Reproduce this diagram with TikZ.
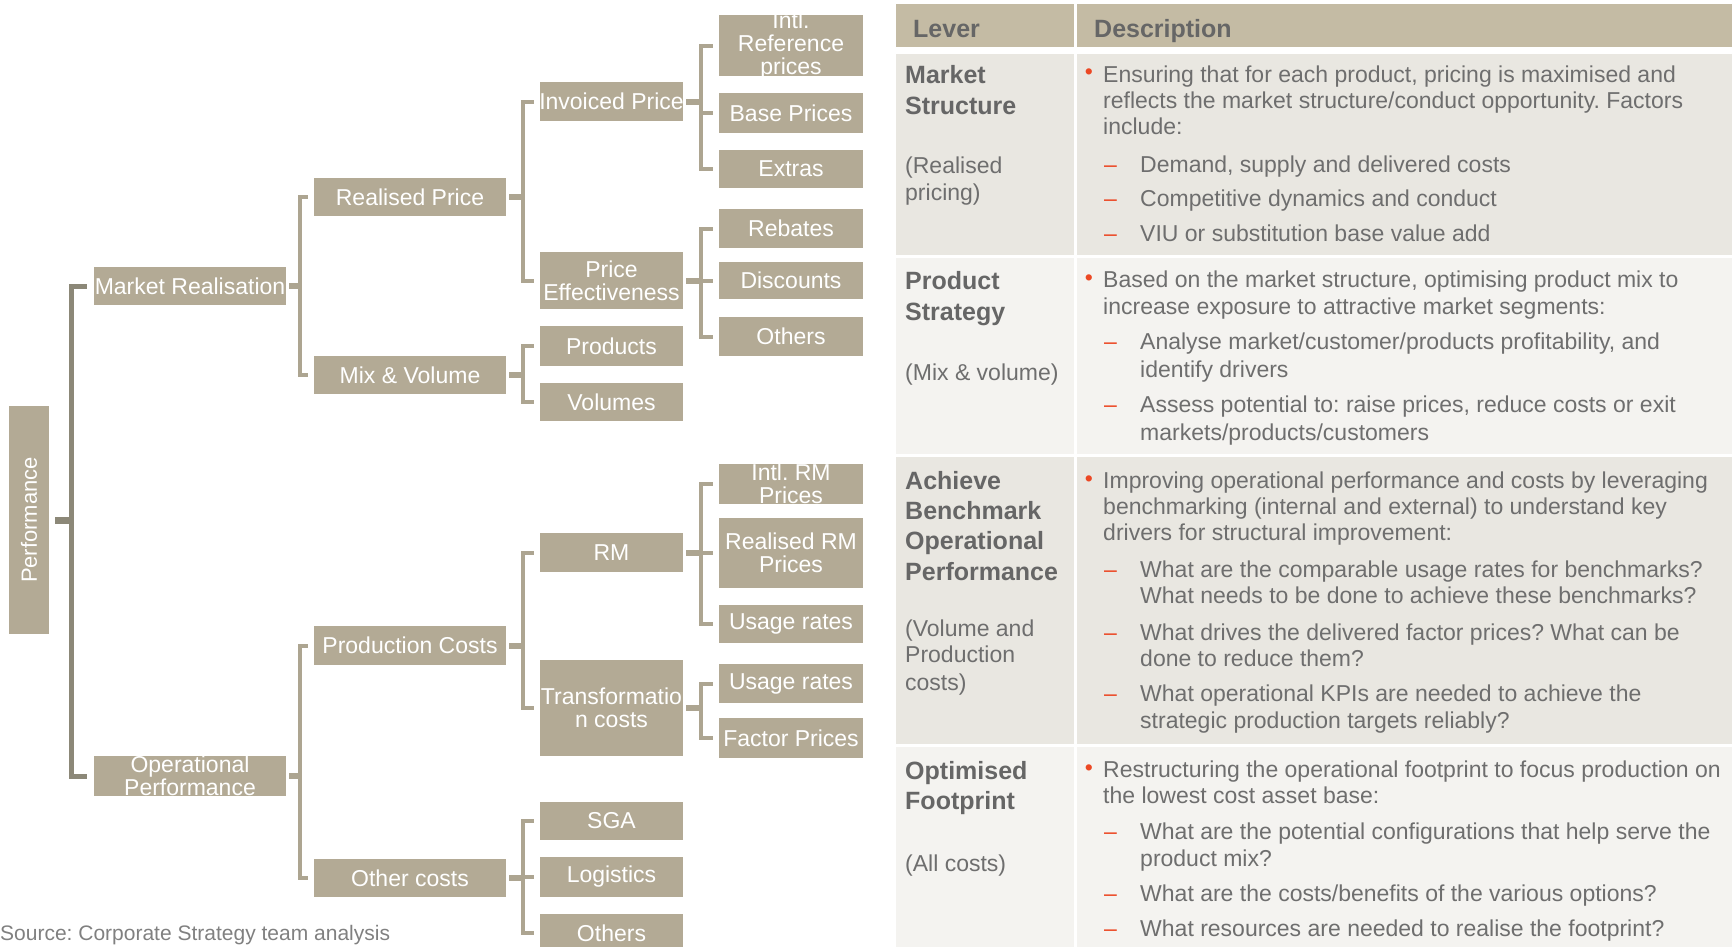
\documentclass[tikz,border=0pt]{standalone}
\usepackage{fontspec}
\setmainfont{Liberation Sans}
\frenchspacing
\usetikzlibrary{calc}
\definecolor{boxc}{RGB}{179,170,149}
\definecolor{connc}{RGB}{173,165,145}
\definecolor{darkc}{RGB}{140,136,120}
\definecolor{hdrc}{RGB}{196,187,164}
\definecolor{rowa}{RGB}{233,231,225}
\definecolor{rowb}{RGB}{244,243,240}
\definecolor{txtc}{RGB}{110,110,110}
\definecolor{levc}{RGB}{102,102,102}
\definecolor{srcc}{RGB}{128,128,128}
\definecolor{redc}{RGB}{236,72,36}
\newcommand\FS[1]{\fontsize{#1}{#1}\selectfont}
\newcommand\Bx[6]{%
  \node[bx,minimum width={(#4-#2)*1pt},minimum height={(#5-#3)*1pt}] (#1) at ({(#2+#4)/2},{(#3+#5)/2}) {};
  \node[btx] (#1t) at (#1.center) {#6};}
\newcommand\Branch[5]{%
  \coordinate (#3v) at ($(#3.east)!0.5!(#3.east -| #4.west)$);
  \draw[#2] (#3.east) -- (#3v);
  \foreach \ch in {#5}{\draw[#1] (#3v) |- (\ch.west);}}
\newcommand\Ln[4]{\node[ln,anchor=base west] (#1) at (#2,#3) {#4};}
\newcommand\Lb[4]{\node[lb,anchor=base west] (#1) at (#2,#3) {#4};}
\newcommand\Bul[3]{\node[bul] (#1) at (#2,#3) {•};}
\newcommand\Dsh[3]{\node[dsh,anchor=base west] (#1) at (#2,#3) {–};}
\begin{document}
\begin{tikzpicture}[x=1pt,y=-1pt,
  bx/.style={fill=boxc,inner sep=0,outer sep=0},
  btx/.style={text=white,font=\FS{23},align=center,inner sep=0},
  lbr/.style={draw=connc,line width=4pt,shorten >=6pt},
  lstub/.style={draw=connc,line width=6pt,shorten <=3pt},
  dbr/.style={draw=darkc,line width=5pt,shorten >=7pt},
  dstub/.style={draw=darkc,line width=7pt,shorten <=6pt},
  ln/.style={text=txtc,font=\FS{23},inner sep=0},
  lb/.style={text=levc,font=\FS{25}\bfseries,inner sep=0},
  bul/.style={text=redc,font=\FS{23},inner sep=0},
  dsh/.style={text=redc,font=\FS{23},inner sep=0}]
\useasboundingbox (0,0) rectangle (1732,946);
\clip (0,0) rectangle (1732,946);

% ---------- tree boxes ----------
\Bx{perf}{9}{406}{49}{634}{}
\node[btx,rotate=90,font=\FS{22}] (perft) at (perf.center) {Performance};
\Bx{mr}{94}{267}{286}{305}{Market Realisation}
\Bx{op}{94}{756}{286}{796}{Operational\\Performance}
\Bx{rp}{314}{178}{506}{216}{Realised Price}
\Bx{mv}{314}{356}{506}{394}{Mix \& Volume}
\Bx{pc}{314}{626}{506}{665}{Production Costs}
\Bx{oc}{314}{859}{506}{897}{Other costs}
\Bx{ip}{540}{82}{683}{121}{Invoiced Price}
\Bx{pe}{540}{252}{683}{309}{Price\\Effectiveness}
\Bx{prod}{540}{326}{683}{366}{Products}
\Bx{vol}{540}{383}{683}{421}{Volumes}
\Bx{rm}{540}{533}{683}{572}{RM}
\Bx{tc}{540}{660}{683}{756}{Transformatio\\n costs}
\Bx{sga}{540}{802}{683}{840}{SGA}
\Bx{logi}{540}{857}{683}{897}{Logistics}
\Bx{othc}{540}{914}{683}{952}{Others}
\Bx{irp}{719}{15}{863}{76}{Intl.\\Reference\\prices}
\Bx{bp}{719}{93}{863}{133}{Base Prices}
\Bx{ex}{719}{150}{863}{188}{Extras}
\Bx{reb}{719}{209}{863}{248}{Rebates}
\Bx{disc}{719}{262}{863}{299}{Discounts}
\Bx{othp}{719}{317}{863}{356}{Others}
\Bx{irm}{719}{464}{863}{504}{Intl. RM\\Prices}
\Bx{rrm}{719}{518}{863}{588}{Realised RM\\Prices}
\Bx{ura}{719}{605}{863}{643}{Usage rates}
\Bx{urb}{719}{664}{863}{703}{Usage rates}
\Bx{fp}{719}{718}{863}{758}{Factor Prices}

% ---------- connectors ----------
\Branch{dbr}{dstub}{perf}{mr}{mr,op}
\Branch{lbr}{lstub}{mr}{rp}{rp,mv}
\Branch{lbr}{lstub}{op}{pc}{pc,oc}
\Branch{lbr}{lstub}{rp}{ip}{ip,pe}
\Branch{lbr}{lstub}{mv}{prod}{prod,vol}
\Branch{lbr}{lstub}{pc}{rm}{rm,tc}
\Branch{lbr}{lstub}{oc}{sga}{sga,logi,othc}
\Branch{lbr}{lstub}{ip}{irp}{irp,bp,ex}
\Branch{lbr}{lstub}{pe}{reb}{reb,disc,othp}
\Branch{lbr}{lstub}{rm}{irm}{irm,rrm,ura}
\Branch{lbr}{lstub}{tc}{urb}{urb,fp}

\node[anchor=base west,inner sep=0,font=\FS{21},text=srcc] (src) at (0,940) {Source: Corporate Strategy team analysis};

% ---------- table ----------
\fill[hdrc] (896,4) rectangle (1074,47);
\fill[hdrc] (1077,4) rectangle (1732,47);
\fill[rowa] (896,54) rectangle (1074,255);
\fill[rowa] (1077,54) rectangle (1732,255);
\fill[rowb] (896,258) rectangle (1074,454);
\fill[rowb] (1077,258) rectangle (1732,454);
\fill[rowa] (896,457) rectangle (1074,744);
\fill[rowa] (1077,457) rectangle (1732,744);
\fill[rowb] (896,747) rectangle (1074,950);
\fill[rowb] (1077,747) rectangle (1732,950);

\Lb{h1}{913}{37}{Lever}
\Lb{h2}{1094}{37}{Description}

% row 1
\Lb{a1}{905}{83}{Market}
\Lb{a2}{905}{114}{Structure}
\Ln{a3}{905}{173}{(Realised}
\Ln{a4}{905}{200}{pricing)}
\Bul{ab}{1089}{74.5}
\Ln{a5}{1103}{82}{Ensuring that for each product, pricing is maximised and}
\Ln{a6}{1103}{108}{reflects the market structure/conduct opportunity. Factors}
\Ln{a7}{1103}{134}{include:}
\Dsh{ad1}{1104}{172}\Ln{a8}{1140}{172}{Demand, supply and delivered costs}
\Dsh{ad2}{1104}{206}\Ln{a9}{1140}{206}{Competitive dynamics and conduct}
\Dsh{ad3}{1104}{241.5}\Ln{a10}{1140}{241.5}{VIU or substitution base value add}

% row 2
\Lb{b1}{905}{289}{Product}
\Lb{b2}{905}{320}{Strategy}
\Ln{b3}{905}{380}{(Mix \& volume)}
\Bul{bb}{1089}{280}
\Ln{b4}{1103}{287}{Based on the market structure, optimising product mix to}
\Ln{b5}{1103}{314}{increase exposure to attractive market segments:}
\Dsh{bd1}{1104}{349}\Ln{b6}{1140}{349}{Analyse market/customer/products profitability, and}
\Ln{b7}{1140}{377.5}{identify drivers}
\Dsh{bd2}{1104}{412}\Ln{b8}{1140}{412}{Assess potential to: raise prices, reduce costs or exit}
\Ln{b9}{1140}{440}{markets/products/customers}

% row 3
\Lb{c1}{905}{489}{Achieve}
\Lb{c2}{905}{519}{Benchmark}
\Lb{c3}{905}{549}{Operational}
\Lb{c4}{905}{580}{Performance}
\Ln{c5}{905}{636}{(Volume and}
\Ln{c6}{905}{662}{Production}
\Ln{c7}{905}{690}{costs)}
\Bul{cb}{1089}{481}
\Ln{c8}{1103}{488}{Improving operational performance and costs by leveraging}
\Ln{c9}{1103}{514}{benchmarking (internal and external) to understand key}
\Ln{c10}{1103}{540}{drivers for structural improvement:}
\Dsh{cd1}{1104}{577}\Ln{c11}{1140}{577}{What are the comparable usage rates for benchmarks?}
\Ln{c12}{1140}{603}{What needs to be done to achieve these benchmarks?}
\Dsh{cd2}{1104}{640}\Ln{c13}{1140}{640}{What drives the delivered factor prices? What can be}
\Ln{c14}{1140}{666}{done to reduce them?}
\Dsh{cd3}{1104}{701}\Ln{c15}{1140}{701}{What operational KPIs are needed to achieve the}
\Ln{c16}{1140}{728}{strategic production targets reliably?}

% row 4
\Lb{e1}{905}{779}{Optimised}
\Lb{e2}{905}{809}{Footprint}
\Ln{e3}{905}{871}{(All costs)}
\Bul{eb}{1089}{770}
\Ln{e4}{1103}{777}{Restructuring the operational footprint to focus production on}
\Ln{e5}{1103}{803}{the lowest cost asset base:}
\Dsh{ed1}{1104}{839}\Ln{e6}{1140}{839}{What are the potential configurations that help serve the}
\Ln{e7}{1140}{866.5}{product mix?}
\Dsh{ed2}{1104}{901}\Ln{e8}{1140}{901}{What are the costs/benefits of the various options?}
\Dsh{ed3}{1104}{936.5}\Ln{e9}{1140}{936.5}{What resources are needed to realise the footprint?}
\end{tikzpicture}
\end{document}
